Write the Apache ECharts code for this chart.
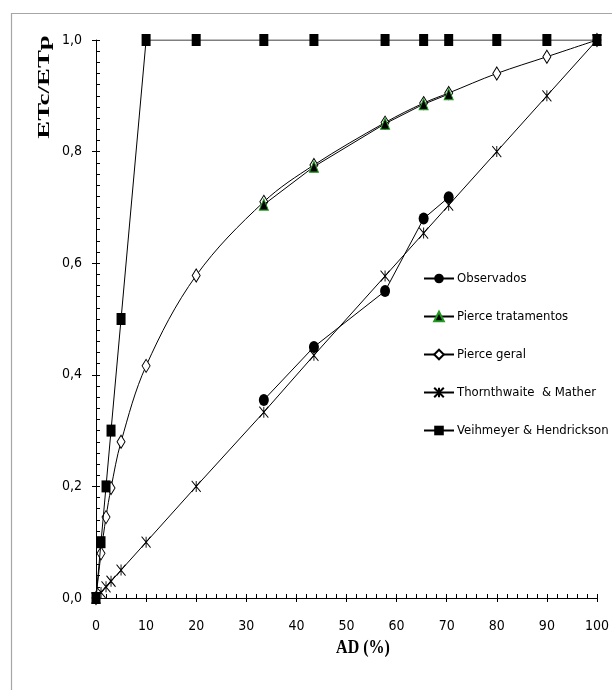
<!DOCTYPE html>
<html><head><meta charset="utf-8">
<script src="https://cdn.jsdelivr.net/npm/echarts@6/dist/echarts.min.js"></script>
<style>html,body{margin:0;padding:0;background:#fff}#c{width:612px;height:690px}</style>
</head><body><div id="c"></div>
<script>
// Data
var xObs = [33.5, 43.5, 57.7, 65.4, 70.4];
var observados = [0.355, 0.45, 0.55, 0.68, 0.718];
var pierceTrat = [0.705, 0.773, 0.85, 0.885, 0.903];
var xFull = [0, 1, 2, 3, 5, 10, 20, 33.5, 43.5, 57.7, 65.4, 70.4, 80, 90, 100];
var pierceGeral = [0, 0.08, 0.145, 0.197, 0.28, 0.416, 0.578, 0.71, 0.776, 0.852, 0.887, 0.905, 0.94, 0.97, 1.0];
var thornthwaite = [0, 0.01, 0.02, 0.03, 0.05, 0.1, 0.2, 0.333, 0.435, 0.577, 0.654, 0.704, 0.8, 0.9, 1.0];
var veihmeyer = [0, 0.1, 0.2, 0.3, 0.5, 1, 1, 1, 1, 1, 1, 1, 1, 1, 1];
var seriesNames = ['Observados', 'Pierce tratamentos', 'Pierce geral', 'Thornthwaite  & Mather', 'Veihmeyer & Hendrickson'];
var xTitle = 'AD (%)';
var yTitle = 'ETc/ETp';

function pairs(xs, ys) { return ys.map(function (v, i) { return [xs[i], v]; }); }

var FONT = "'DejaVu Sans Condensed', 'Liberation Sans Narrow', sans-serif";
var chart = echarts.init(document.getElementById('c'));
var baseAxis = { axisLine: { show: true, lineStyle: { color: '#000', width: 1 } }, splitLine: { show: false } };

chart.setOption({
  animation: false,
  backgroundColor: '#fff',
  grid: { left: 96, right: 12, top: 40, bottom: 92, containLabel: false },
  legend: {
    orient: 'vertical', left: 418, top: 267, itemWidth: 30, itemHeight: 12, itemGap: 25,
    textStyle: { fontFamily: FONT, fontSize: 13, color: '#000', padding: [0, 0, 0, -2] },
    data: seriesNames
  },
  xAxis: [
    Object.assign({}, baseAxis, {
      type: 'value', min: 0, max: 100, interval: 10, position: 'bottom',
      axisTick: { show: true, inside: false, length: 4, lineStyle: { color: '#000' } },
      axisLabel: { fontFamily: FONT, fontSize: 14, color: '#000', margin: 21 }
    }),
    {
      type: 'value', min: 0, max: 100, interval: 10, position: 'bottom', gridIndex: 0,
      axisLine: { show: false }, splitLine: { show: false }, axisLabel: { show: false },
      axisTick: { show: true, inside: true, length: 4, lineStyle: { color: '#000' } },
      minorTick: { show: true, splitNumber: 5, length: 4, lineStyle: { color: '#000' } }
    }
  ],
  yAxis: [
    Object.assign({}, baseAxis, {
      type: 'value', min: 0, max: 1, interval: 0.2, position: 'left',
      axisTick: { show: true, inside: false, length: 4, lineStyle: { color: '#000' } },
      axisLabel: { fontFamily: FONT, fontSize: 14, color: '#000', margin: 14,
        formatter: function (v) { return v.toFixed(1).replace('.', ','); } }
    }),
    {
      type: 'value', min: 0, max: 1, interval: 0.2, position: 'left', gridIndex: 0,
      axisLine: { show: false }, splitLine: { show: false }, axisLabel: { show: false },
      axisTick: { show: true, inside: true, length: 4, lineStyle: { color: '#000' } },
      minorTick: { show: true, splitNumber: 10, length: 4, lineStyle: { color: '#000' } }
    }
  ],
  graphic: [
    { type: 'rect', z: -10, shape: { x: 11.5, y: 13.5, width: 700, height: 700 },
      style: { fill: 'none', stroke: '#a6a6a6', lineWidth: 1.2 } },
    { type: 'text', x: 363, y: 648, style: { text: xTitle, font: "bold 16px 'Liberation Serif', serif", fill: '#000', align: 'center', verticalAlign: 'middle' }, scaleY: 1.2 },
    { type: 'text', x: 45, y: 87, rotation: Math.PI / 2, scaleX: 1.58,
      style: { text: yTitle, font: "bold 17px 'Liberation Serif', serif", fill: '#000', align: 'center', verticalAlign: 'middle' } }
  ],
  series: [
    { name: seriesNames[0], type: 'line', z: 5, data: pairs(xObs, observados), symbol: 'circle', symbolSize: [10, 12],
      itemStyle: { color: '#000' }, lineStyle: { color: '#000', width: 1 } },
    { name: seriesNames[1], type: 'line', z: 6, data: pairs(xObs, pierceTrat), symbol: 'triangle', symbolSize: [9, 11],
      itemStyle: { color: '#000', borderColor: '#1e9a1e', borderWidth: 1 }, lineStyle: { color: '#000', width: 1 } },
    { name: seriesNames[2], type: 'line', z: 4, smooth: 0.35, data: pairs(xFull, pierceGeral), symbol: 'diamond', symbolSize: [8, 13],
      itemStyle: { color: '#fff', borderColor: '#000', borderWidth: 1 }, lineStyle: { color: '#000', width: 1 } },
    { name: seriesNames[3], type: 'line', z: 3, data: pairs(xFull, thornthwaite),
      symbol: 'path://M0,0L10,10M10,0L0,10M5,0L5,10', symbolSize: [9, 11],
      itemStyle: { color: '#000', borderColor: '#000', borderWidth: 1 }, lineStyle: { color: '#000', width: 1 } },
    { name: seriesNames[4], type: 'line', z: 7, data: pairs(xFull, veihmeyer), symbol: 'rect', symbolSize: [9, 12],
      itemStyle: { color: '#000' }, lineStyle: { color: '#000', width: 1 } }
  ]
});
</script></body></html>
